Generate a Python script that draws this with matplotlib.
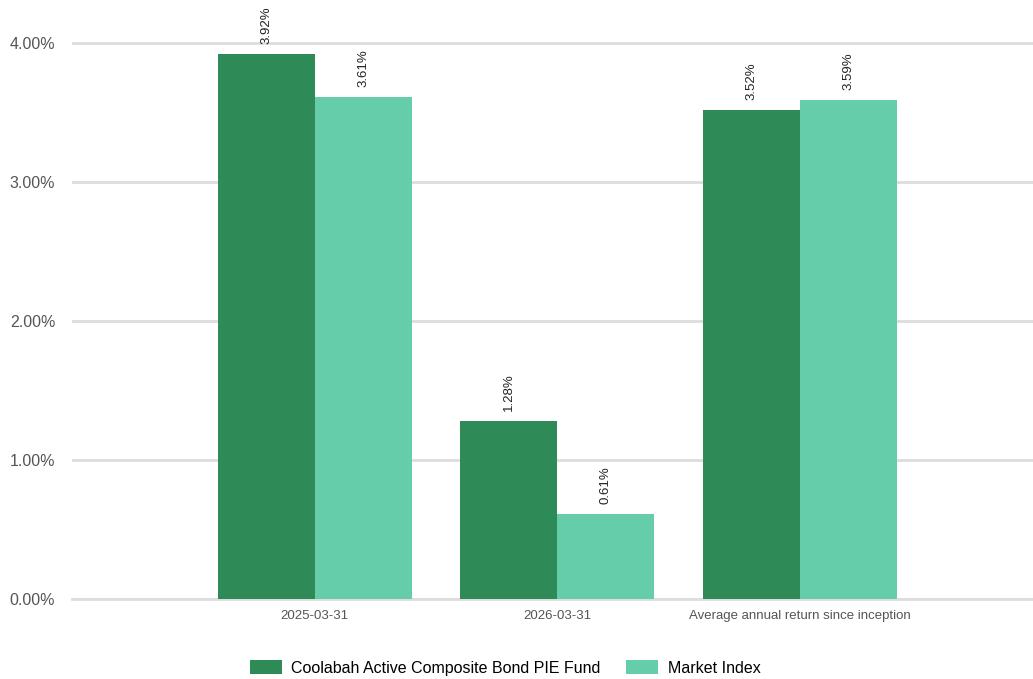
import matplotlib
matplotlib.use("Agg")
import matplotlib.pyplot as plt
import numpy as np

plt.rcParams['font.family'] = ['Liberation Sans', 'DejaVu Sans']

categories = ["2025-03-31", "2026-03-31", "Average annual return since inception"]
fund_name = "Coolabah Active Composite Bond PIE Fund"
index_name = "Market Index"
fund_values = [3.92, 1.28, 3.52]
index_values = [3.61, 0.61, 3.59]
yticks = [0, 1, 2, 3, 4]

fund_color = "#2e8b57"
index_color = "#66cdaa"

fig = plt.figure(figsize=(10.33, 6.79), dpi=100)
ax = fig.add_axes([72/1033, 1 - 599/679, 1 - 72/1033, 599/679])

x = np.arange(1, len(categories) + 1)
w = 0.4
b1 = ax.bar(x - w/2, fund_values, w, color=fund_color, label=fund_name, zorder=3)
b2 = ax.bar(x + w/2, index_values, w, color=index_color, label=index_name, zorder=3)

for bars, vals in ((b1, fund_values), (b2, index_values)):
    for r, v in zip(bars, vals):
        ax.annotate(f"{v:.2f}%", (r.get_x() + r.get_width()/2, r.get_height()),
                    xytext=(0, 7), textcoords="offset points", rotation=90,
                    ha="center", va="bottom", fontsize=9.5, color="#222222")

ax.set_xlim(0, 3.96)
ax.set_ylim(0, 599/139)
ax.set_yticks(yticks)
ax.set_yticklabels([f"{t:.2f}%" for t in yticks])
ax.set_xticks(x)
ax.set_xticklabels(categories)
ax.tick_params(axis='y', length=0, pad=12, labelsize=11.5, labelcolor="#555555")
ax.tick_params(axis='x', length=0, pad=8, labelsize=9.5, labelcolor="#555555")
ax.grid(axis='y', color="#dddddd", linewidth=2, zorder=0)
ax.axhline(0, color="#dddddd", linewidth=2, zorder=2, clip_on=False)
for s in ax.spines.values():
    s.set_visible(False)

fig.legend(handles=[b1, b2], labels=[fund_name, index_name], loc="center",
           bbox_to_anchor=(505/1033, 1 - 668/679), ncol=2, frameon=False,
           fontsize=11.5, handlelength=2.0, handleheight=0.9, columnspacing=1.6,
           handletextpad=0.6)

fig.savefig("out.png", dpi=100)
